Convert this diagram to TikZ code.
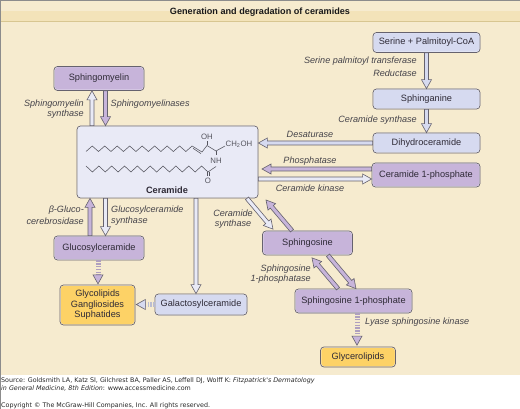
\documentclass[tikz,border=0pt]{standalone}
\usepackage{fontspec}
\setmainfont{Liberation Sans}
\newfontfamily\footfont{DejaVu Sans}
\usetikzlibrary{calc}
\definecolor{bgc}{HTML}{F6EBCF}
\definecolor{bandc}{HTML}{F3E3B9}
\definecolor{rulec}{HTML}{D8C691}
\definecolor{edgec}{HTML}{66626E}
\definecolor{palec}{HTML}{E9EAF6}
\definecolor{peric}{HTML}{D6DAF0}
\definecolor{purc}{HTML}{C7B4DA}
\definecolor{yelc}{HTML}{FDD266}
\definecolor{inkc}{HTML}{2E2A36}
\definecolor{labc}{HTML}{45434A}
\definecolor{molc}{HTML}{55555E}
\tikzset{
  box/.style={draw=edgec,line width=.7pt,rounded corners=3.5pt,inner sep=0pt,text=inkc,font=\fontsize{9.2}{10.6}\selectfont,align=center,
    path picture={\draw[white!70!#1,line width=1.5pt,rounded corners=3.5pt] (path picture bounding box.south west) rectangle (path picture bounding box.north east);},fill=#1},
  lbl/.style={inner sep=0pt,text=labc,font=\fontsize{9.1}{10.6}\selectfont\itshape},
  mol/.style={draw=molc,line width=.55pt,line join=miter},
  moltxt/.style={inner sep=0pt,text=molc,font=\fontsize{7.8}{9}\selectfont},
  foot/.style={inner sep=0pt,anchor=west,text=black!85,font=\footfont\fontsize{6.35}{8}\selectfont},
  fat/.style={draw=edgec,fill=#1,line width=.6pt,to path={
    let \p1=($(\tikztotarget)!9pt!(\tikztostart)$) in
    ($(\tikztostart)!2pt!90:(\tikztotarget)$) --
    ($(\p1)!2pt!90:(\tikztotarget)$) --
    ($(\p1)!5pt!90:(\tikztotarget)$) --
    (\tikztotarget) --
    ($(\p1)!5pt!-90:(\tikztotarget)$) --
    ($(\p1)!2pt!-90:(\tikztotarget)$) --
    ($(\tikztostart)!2pt!-90:(\tikztotarget)$) -- cycle}},
  fathead/.style={draw=edgec,fill=#1,line width=.6pt,to path={
    let \p1=($(\tikztotarget)!9pt!(\tikztostart)$) in
    ($(\p1)!5pt!90:(\tikztotarget)$) --
    (\tikztotarget) --
    ($(\p1)!5pt!-90:(\tikztotarget)$) -- cycle}},
  dsh/.style={draw=#1,line width=5pt,dash pattern=on 1.5pt off 1.3pt,shorten >=9pt}
}
\begin{document}
\begin{tikzpicture}[x=1pt,y=-1pt]
\useasboundingbox (0,0) rectangle (520,409);
\fill[white] (0,0) rectangle (520,409);
\fill[bgc] (0,0) rectangle (520,375);
\fill[bandc] (0,11) rectangle (520,21);
\draw[rulec,line width=.7pt] (0,21.5) -- (520,21.5);
\draw[black!45,line width=.6pt] (0,.3) -- (520,.3);
\draw[black!45,line width=.6pt] (.3,0) -- (.3,409);
\node[inner sep=0pt,text=black!90,font=\fontsize{9.1}{11}\selectfont\bfseries] (title) at (260,12) {Generation and degradation of ceramides};

% boxes
\node[box=purc,minimum width=90pt,minimum height=24pt] (sm) at (99,78.5) {Sphingomyelin};
\node[box=palec,minimum width=181pt,minimum height=72pt] (ce) at (167.5,162) {};
\node[inner sep=0pt,text=inkc,font=\fontsize{9.2}{11}\selectfont\bfseries] (cet) at (167,190) {Ceramide};
\node[box=peric,minimum width=107pt,minimum height=20pt] (se) at (426.5,42.5) {Serine + Palmitoyl-CoA};
\node[box=peric,minimum width=107pt,minimum height=20pt] (sa) at (426.5,99) {Sphinganine};
\node[box=peric,minimum width=107pt,minimum height=20pt] (dh) at (426.5,143) {Dihydroceramide};
\node[box=purc,minimum width=108pt,minimum height=24pt] (cp) at (426,175) {Ceramide 1-phosphate};
\node[box=purc,minimum width=90pt,minimum height=24pt] (so) at (307.5,243) {Sphingosine};
\node[box=purc,minimum width=117pt,minimum height=24pt] (sp) at (353.5,301) {Sphingosine 1-phosphate};
\node[box=yelc,minimum width=75pt,minimum height=20pt] (gy) at (358,357) {Glycerolipids};
\node[box=purc,minimum width=90pt,minimum height=24pt] (gc) at (99,248) {Glucosylceramide};
\node[box=yelc,minimum width=75pt,minimum height=40pt] (gl) at (97.5,305) {Glycolipids\\Gangliosides\\Suphatides};
\node[box=peric,minimum width=92pt,minimum height=21pt] (ga) at (201,304.5) {Galactosylceramide};

% arrows
\draw[fat=palec] (ce.north -| 92,0) to (sm.south -| 92,0);
\draw[fat=purc] (sm.south -| 105.5,0) to (ce.north -| 105.5,0);
\draw[fat=purc] (gc.north -| 90,0) to (ce.south -| 90,0);
\draw[fat=palec] (ce.south -| 105.5,0) to (gc.north -| 105.5,0);
\draw[fat=palec] (ce.south -| 196,0) to (ga.north -| 196,0);
\draw[fat=peric] (se.south) to (sa.north);
\draw[fat=peric] (sa.south) to (dh.north);
\draw[fat=peric] (dh.west) to (ce.east |- dh.west);
\draw[fat=purc] (cp.west |- 0,169) to (262,169);
\draw[fat=palec] (ce.east |- 0,179) to (cp.west |- 0,179);
\draw[fat=palec] (ce.south -| 247,0) to ($(so.north -| 273,0)+(0,-1.5)$);
\draw[fat=purc] (so.north -| 292,0) to (266,200);
\draw[fat=purc] (so.south -| 328,0) to (sp.north -| 356,0);
\draw[fat=purc] (sp.north -| 338,0) to ($(so.south -| 312,0)+(0,2.5)$);
\coordinate (gt) at ($(gl.north -| 98,0)+(0,-.8)$);
\draw[dsh=purc!75!edgec] (gc.south -| 98,0) -- (gt);
\draw[fathead=purc] (gc.south -| 98,0) to (gt);
\coordinate (yt) at ($(gy.north -| 357,0)+(0,-1.5)$);
\draw[dsh=purc!75!edgec] (sp.south -| 357,0) -- (yt);
\draw[fathead=purc] (sp.south -| 357,0) to (yt);
\coordinate (lt) at ($(gl.east |- ga.west)+(1,0)$);
\draw[dsh=peric!75!edgec] (ga.west) -- (lt);
\draw[fathead=peric] (ga.west) to (lt);

% labels
\node[lbl,anchor=east] (l1a) at (84,104) {Sphingomyelin};
\node[lbl,anchor=east] (l1b) at (84,114.5) {synthase};
\node[lbl,anchor=west] (l2) at (110.5,104) {Sphingomyelinases};
\node[lbl,anchor=east] (l3a) at (417,61.5) {Serine palmitoyl transferase};
\node[lbl,anchor=east] (l3b) at (417,73) {Reductase};
\node[lbl,anchor=east] (l4) at (417,120.5) {Ceramide synthase};
\node[lbl] (l5) at (310,134) {Desaturase};
\node[lbl] (l6) at (310,161) {Phosphatase};
\node[lbl] (l7) at (310,188) {Ceramide kinase};
\node[lbl,anchor=east] (l8a) at (84,210.5) {β-Gluco-};
\node[lbl,anchor=east] (l8b) at (84,221) {cerebrosidase};
\node[lbl,anchor=west] (l9a) at (111,210.5) {Glucosylceramide};
\node[lbl,anchor=west] (l9b) at (111,221) {synthase};
\node[lbl] (l10a) at (233,213) {Ceramide};
\node[lbl] (l10b) at (233,224) {synthase};
\node[lbl,anchor=east] (l11a) at (311,269) {Sphingosine};
\node[lbl,anchor=east] (l11b) at (311,279.5) {1-phosphatase};
\node[lbl,anchor=west] (l12) at (365,322.5) {Lyase sphingosine kinase};

% molecule
\draw[mol] plot[samples at={0,...,17}] ({86+\x*6.24},{151.5-5.5*mod(\x,2)}) -- (202,152) -- (207,145.5) -- (216,151) -- (225,146);
\draw[mol] (193,148.3) -- (201,153.6);
\draw[mol] (207,145.5) -- (207,141.5);
\draw[mol] (216,151) -- (216,155.5);
\draw[mol] plot[samples at={0,...,19}] ({86+\x*6.42},{166+6*mod(\x,2)}) -- (216,166.5);
\draw[mol] (207.3,172) -- (207.3,176.5) (209,172) -- (209,176.5);
\node[moltxt] (oh) at (207,137) {OH};
\node[moltxt,anchor=west] (choh) at (225.5,144) {CH\textsubscript{2}OH};
\node[moltxt] (nh) at (216,160.5) {NH};
\node[moltxt] (oo) at (208,181) {O};

% source
\node[foot] (f1) at (1,380.5) {Source: Goldsmith LA, Katz SI, Gilchrest BA, Paller AS, Leffell DJ, Wolff K: \textit{Fitzpatrick's Dermatology}};
\node[foot] (f2) at (1,388) {\textit{in General Medicine, 8th Edition}: www.accessmedicine.com};
\node[foot] (f3) at (1,405.5) {Copyright © The McGraw-Hill Companies, Inc. All rights reserved.};
\end{tikzpicture}
\end{document}
